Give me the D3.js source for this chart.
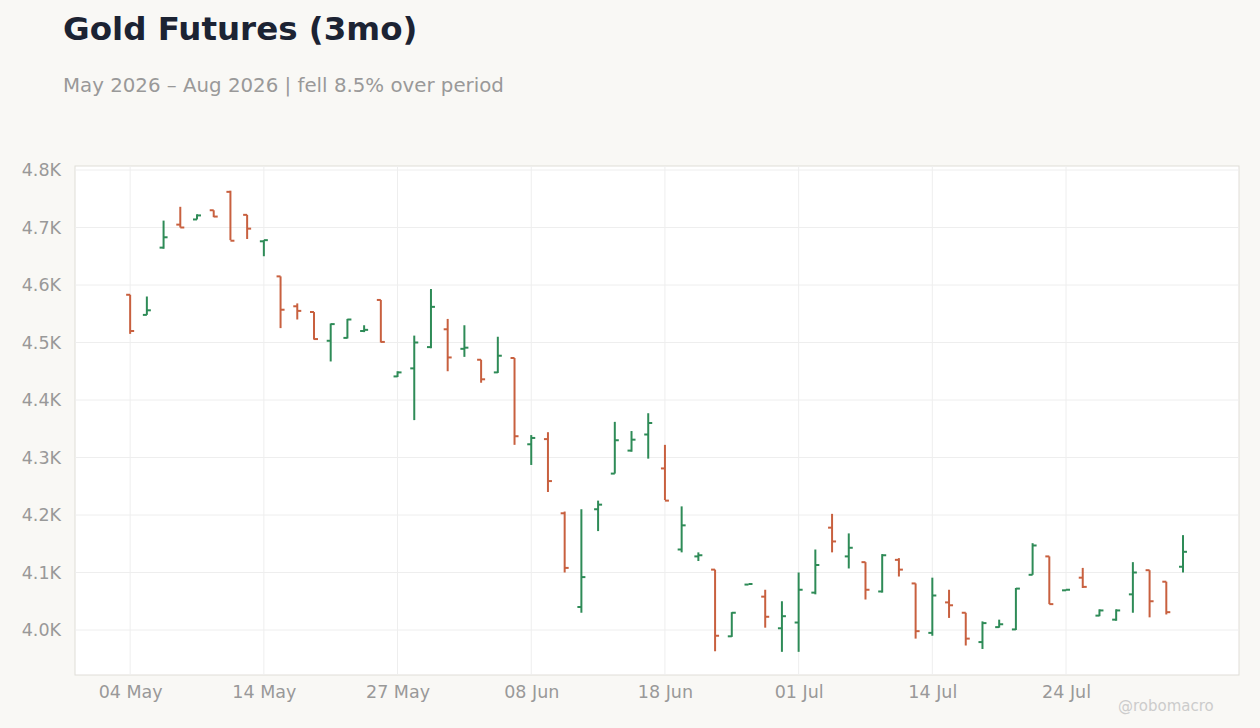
<!DOCTYPE html>
<html><head><meta charset="utf-8">
<script src="https://cdn.jsdelivr.net/npm/d3@7"></script>
<style>body{margin:0;background:#f9f8f5;font-family:"DejaVu Sans",sans-serif}</style>
</head><body><svg id="c" width="1260" height="728"></svg>
<script>
const dates=["2026-05-04","2026-05-05","2026-05-06","2026-05-07","2026-05-08","2026-05-11","2026-05-12","2026-05-13","2026-05-14","2026-05-15","2026-05-18","2026-05-19","2026-05-20","2026-05-21","2026-05-22","2026-05-26","2026-05-27","2026-05-28","2026-05-29","2026-06-01","2026-06-02","2026-06-03","2026-06-04","2026-06-05","2026-06-08","2026-06-09","2026-06-10","2026-06-11","2026-06-12","2026-06-15","2026-06-16","2026-06-17","2026-06-18","2026-06-22","2026-06-23","2026-06-24","2026-06-25","2026-06-26","2026-06-29","2026-06-30","2026-07-01","2026-07-02","2026-07-06","2026-07-07","2026-07-08","2026-07-09","2026-07-10","2026-07-13","2026-07-14","2026-07-15","2026-07-16","2026-07-17","2026-07-20","2026-07-21","2026-07-22","2026-07-23","2026-07-24","2026-07-27","2026-07-28","2026-07-29","2026-07-30","2026-07-31","2026-08-03","2026-08-04"];
const open=[4583,4548,4665,4705,4714,4730,4762,4722,4676,4615,4563,4553,4503,4508,4520,4574,4441,4455,4492,4523,4489,4470,4448,4473,4323,4332,4203,4040,4210,4272,4312,4340,4281,4140,4128,4105,3989,4079,4058,4003,4013,4065,4178,4128,4118,4067,4122,4081,3995,4048,4030,3979,4005,4001,4096,4128,4069,4091,4025,4018,4062,4104,4084,4110];
const high=[4583,4580,4712,4736,4723,4730,4764,4722,4678,4615,4568,4553,4533,4541,4530,4574,4450,4512,4593,4541,4530,4470,4510,4473,4339,4344,4206,4210,4225,4362,4346,4377,4322,4215,4135,4105,4031,4080,4070,4050,4100,4140,4202,4168,4118,4132,4125,4081,4091,4070,4030,4015,4018,4073,4151,4128,4070,4108,4036,4036,4118,4104,4084,4165];
const low=[4515,4548,4663,4700,4714,4718,4678,4680,4650,4525,4540,4505,4467,4507,4518,4500,4440,4365,4490,4450,4475,4430,4447,4322,4287,4240,4100,4030,4172,4272,4310,4298,4226,4135,4120,3963,3988,4079,4004,3962,3962,4062,4135,4107,4053,4065,4093,3985,3990,4021,3973,3967,4004,4000,4096,4045,4069,4073,4024,4016,4030,4022,4027,4100];
const close=[4520,4556,4683,4700,4721,4719,4677,4698,4678,4557,4555,4506,4532,4540,4522,4501,4448,4500,4562,4474,4491,4436,4477,4337,4334,4259,4108,4092,4218,4330,4331,4360,4225,4182,4130,3990,4030,4080,4023,4024,4070,4113,4154,4143,4070,4130,4105,3998,4060,4043,3985,4012,4010,4072,4147,4045,4070,4075,4034,4034,4100,4050,4031,4136];
const yTicks=[4000,4100,4200,4300,4400,4500,4600,4700,4800];
const xTickIdx=[0,8,16,24,32,40,48,56];

const svg=d3.select("#c");
const L=75,R=1239,T=166,B=675;
const x=d3.scaleLinear().domain([-3.3,66.35]).range([L,R]);
const y=d3.scaleLinear().domain([4000,4800]).range([630,170]);
svg.append("rect").attr("x",L).attr("y",T).attr("width",R-L).attr("height",B-T).attr("fill","#fff").attr("stroke","#e0ddd8");
svg.append("g").selectAll("line").data(yTicks).join("line").attr("x1",L).attr("x2",R).attr("y1",d=>y(d)).attr("y2",d=>y(d)).attr("stroke","#eeeeee");
svg.append("g").selectAll("line").data(xTickIdx).join("line").attr("y1",T).attr("y2",B).attr("x1",d=>x(d)).attr("x2",d=>x(d)).attr("stroke","#eeeeee");
const fmt=d3.timeFormat("%d %b"),pd=d3.timeParse("%Y-%m-%d");
const ya=svg.append("g").attr("transform",`translate(${L},0)`).call(d3.axisLeft(y).tickValues(yTicks).tickFormat(d=>(d/1000).toFixed(1)+"K").tickSize(0).tickPadding(14));
const xa=svg.append("g").attr("transform",`translate(0,${B})`).call(d3.axisBottom(x).tickValues(xTickIdx).tickFormat(i=>fmt(pd(dates[i]))).tickSize(0).tickPadding(11));
[ya,xa].forEach(a=>{a.select(".domain").remove();a.selectAll("line").remove();a.selectAll("text").attr("fill","#999").attr("font-size",17.5).attr("font-family","DejaVu Sans");});
const data=dates.map((d,i)=>({i,o:open[i],h:high[i],l:low[i],c:close[i]}));
const col=d=>d.c>=d.o?"#2e8b57":"#c8603f";
const g=svg.append("g").selectAll("g").data(data).join("g").attr("stroke",col).attr("stroke-width",2);
g.append("line").attr("x1",d=>x(d.i)).attr("x2",d=>x(d.i)).attr("y1",d=>y(d.h)).attr("y2",d=>y(d.l)-0.01);
g.append("line").attr("x1",d=>x(d.i)-4).attr("x2",d=>x(d.i)).attr("y1",d=>y(d.o)).attr("y2",d=>y(d.o));
g.append("line").attr("x1",d=>x(d.i)).attr("x2",d=>x(d.i)+4).attr("y1",d=>y(d.c)).attr("y2",d=>y(d.c));
svg.append("text").attr("x",63).attr("y",40).attr("font-size",32.5).attr("font-weight","bold").attr("fill","#1c2333").text("Gold Futures (3mo)");
svg.append("text").attr("x",63).attr("y",92).attr("font-size",19.8).attr("fill","#999").text("May 2026 – Aug 2026 | fell 8.5% over period");
svg.append("text").attr("x",1118).attr("y",711).attr("font-size",15).attr("fill","#ccc").text("@robomacro");
</script></body></html>
